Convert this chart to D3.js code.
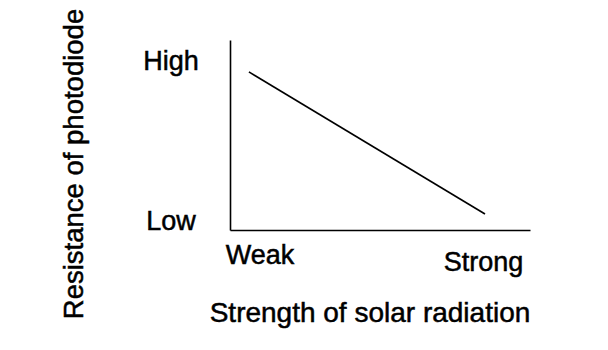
<!DOCTYPE html>
<html>
<head>
<meta charset="utf-8">
<script src="https://cdn.jsdelivr.net/npm/d3@7"></script>
<style>
  html, body { margin: 0; padding: 0; background: #fff; }
  text { font-family: "Liberation Sans", Arial, sans-serif; fill: #000; stroke: #000; stroke-width: 0.5px; }
</style>
</head>
<body>
<svg id="chart"></svg>
<script>
// data (0 = weak/low, 1 = end of axis)
const lineX = [0.063, 0.85];
const lineY = [0.832, 0.084];
const xTickLabels = ["Weak", "Strong"];
const xTickValues = [0.1, 0.845];
const yTickLabels = ["Low", "High"];
const yTickValues = [0.05, 0.895];
const xTitle = "Strength of solar radiation";
const yTitle = "Resistance of photodiode";

const width = 608;
const height = 350;

const svg = d3.select("#chart")
    .attr("width", width)
    .attr("height", height)
    .attr("viewBox", [0, 0, width, height]);

svg.append("rect")
    .attr("width", width)
    .attr("height", height)
    .attr("fill", "#fff");

const xScale = d3.scaleLinear().domain([0, 1]).range([230, 530]);
const yScale = d3.scaleLinear().domain([0, 1]).range([230, 40]);

// axes, no ticks, just the lines
svg.append("g")
    .attr("transform", `translate(0,${yScale(0)})`)
    .call(d3.axisBottom(xScale).tickValues([]).tickSizeOuter(0))
    .call(g => g.select(".domain").attr("stroke-width", 1.6));

svg.append("g")
    .attr("transform", `translate(${xScale(0)},0)`)
    .call(d3.axisLeft(yScale).tickValues([]).tickSizeOuter(0))
    .call(g => g.select(".domain").attr("stroke-width", 1.6));

// tick labels
svg.append("g")
    .selectAll("text")
    .data(xTickLabels)
    .join("text")
    .attr("x", (d, i) => xScale(xTickValues[i]))
    .attr("y", (d, i) => i === 0 ? 264 : 271)
    .attr("text-anchor", "middle")
    .style("font-size", "27px")
    .text(d => d);

svg.append("g")
    .selectAll("text")
    .data(yTickLabels)
    .join("text")
    .attr("x", 171)
    .attr("y", (d, i) => yScale(yTickValues[i]))
    .attr("dy", "0.36em")
    .attr("text-anchor", "middle")
    .style("font-size", "27px")
    .text(d => d);

// the line
const line = d3.line()
    .x((d, i) => xScale(lineX[i]))
    .y((d, i) => yScale(lineY[i]));

svg.append("path")
    .datum(lineX)
    .attr("d", line)
    .attr("fill", "none")
    .attr("stroke", "#000")
    .attr("stroke-width", 1.6);

// titles
svg.append("text")
    .attr("x", 370)
    .attr("y", 322)
    .attr("text-anchor", "middle")
    .style("font-size", "28px")
    .text(xTitle);

svg.append("text")
    .attr("transform", "translate(83,164) rotate(-90)")
    .attr("text-anchor", "middle")
    .style("font-size", "27.5px")
    .text(yTitle);
</script>
</body>
</html>
